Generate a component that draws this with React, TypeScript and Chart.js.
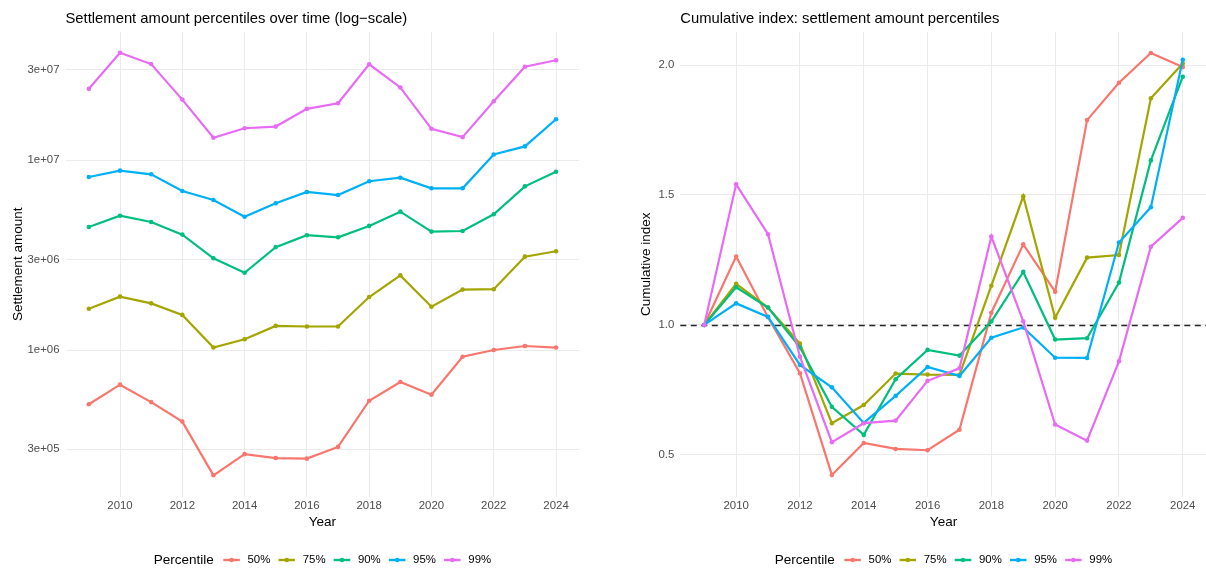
import React, { useEffect, useRef } from "react";
import { Chart, registerables } from "chart.js";

Chart.register(...registerables);

// ---------------- data ----------------
const YEARS = [2009, 2010, 2011, 2012, 2013, 2014, 2015, 2016, 2017, 2018, 2019, 2020, 2021, 2022, 2023, 2024];
const PERCENTILES = ["50%", "75%", "90%", "95%", "99%"];

// Settlement amounts (log-scale panel)
const AMT_P50 = [5.18e5, 6.57e5, 5.32e5, 4.2e5, 2.19e5, 2.83e5, 2.7e5, 2.68e5, 3.09e5, 5.41e5, 6.79e5, 5.82e5, 9.22e5, 1.0e6, 1.05e6, 1.03e6];
const AMT_P75 = [1.65e6, 1.91e6, 1.76e6, 1.53e6, 1.03e6, 1.14e6, 1.34e6, 1.33e6, 1.33e6, 1.9e6, 2.47e6, 1.69e6, 2.08e6, 2.09e6, 3.1e6, 3.31e6];
const AMT_P90 = [4.44e6, 5.09e6, 4.72e6, 4.05e6, 3.04e6, 2.55e6, 3.48e6, 4.02e6, 3.92e6, 4.5e6, 5.35e6, 4.2e6, 4.23e6, 5.18e6, 7.27e6, 8.68e6];
const AMT_P95 = [8.14e6, 8.79e6, 8.41e6, 6.87e6, 6.16e6, 5.03e6, 5.92e6, 6.79e6, 6.54e6, 7.73e6, 8.07e6, 7.1e6, 7.1e6, 1.07e7, 1.18e7, 1.64e7];
const AMT_P99 = [2.37e7, 3.67e7, 3.2e7, 2.08e7, 1.31e7, 1.47e7, 1.5e7, 1.86e7, 1.99e7, 3.19e7, 2.41e7, 1.46e7, 1.32e7, 2.04e7, 3.1e7, 3.35e7];

// Cumulative index (relative to 2009)
const IDX_P50 = [1.0, 1.263, 1.03, 0.814, 0.423, 0.546, 0.523, 0.518, 0.597, 1.047, 1.31, 1.128, 1.788, 1.932, 2.046, 1.992];
const IDX_P75 = [1.0, 1.158, 1.067, 0.928, 0.622, 0.692, 0.813, 0.809, 0.808, 1.151, 1.495, 1.028, 1.259, 1.269, 1.872, 2.006];
const IDX_P90 = [1.0, 1.145, 1.067, 0.914, 0.685, 0.577, 0.791, 0.904, 0.882, 1.013, 1.204, 0.944, 0.949, 1.163, 1.633, 1.955];
const IDX_P95 = [1.0, 1.083, 1.031, 0.846, 0.76, 0.623, 0.727, 0.838, 0.804, 0.951, 0.99, 0.874, 0.873, 1.317, 1.453, 2.02];
const IDX_P99 = [1.0, 1.541, 1.349, 0.878, 0.549, 0.622, 0.632, 0.785, 0.833, 1.34, 1.014, 0.617, 0.555, 0.86, 1.301, 1.412];

// ticks
const X_TICKS = [2010, 2012, 2014, 2016, 2018, 2020, 2022, 2024];
const LOG_TICKS = [3e5, 1e6, 3e6, 1e7, 3e7];
const LOG_TICK_LABELS = ["3e+05", "1e+06", "3e+06", "1e+07", "3e+07"];
const IDX_TICKS = [0.5, 1.0, 1.5, 2.0];
const IDX_TICK_LABELS = ["0.5", "1.0", "1.5", "2.0"];
const REF_VALUE = 1.0;

// ---------------- style ----------------
const COLORS = ["#F8766D", "#A3A500", "#00BF7D", "#00B0F6", "#E76BF3"];
const FONT = "'Liberation Sans', Arial, Helvetica, sans-serif";
const GRID = "#EBEBEB";
const TICK_COLOR = "#4D4D4D";
const H = 571;
const TICK_SIZE = 11.4;
const AXIS_TITLE_SIZE = 13.5;
const PLOT_TITLE_SIZE = 14.8;

Chart.defaults.font.family = FONT;

function buildDatasets(series: number[][]) {
  return series.map((vals, i) => ({
    label: PERCENTILES[i],
    data: YEARS.map((yr, j) => ({ x: yr, y: vals[j] })),
    borderColor: COLORS[i],
    backgroundColor: COLORS[i],
    borderWidth: 2.2,
    pointRadius: 2.3,
    pointBorderWidth: 0,
    pointHoverRadius: 2.3,
    tension: 0,
    order: series.length - i,
  }));
}

function decoPlugin(title: string, refLine: boolean) {
  return {
    id: "deco",
    beforeDatasetsDraw(chart: any) {
      if (!refLine) return;
      const { ctx, chartArea } = chart;
      const y = Math.round(chart.scales.y.getPixelForValue(REF_VALUE)) + 0.5;
      ctx.save();
      ctx.strokeStyle = "#262626";
      ctx.lineWidth = 1.3;
      ctx.setLineDash([6, 4.5]);
      ctx.beginPath();
      ctx.moveTo(chartArea.left, y);
      ctx.lineTo(chartArea.right, y);
      ctx.stroke();
      ctx.restore();
    },
    afterDraw(chart: any) {
      const { ctx, chartArea } = chart;
      ctx.save();
      // plot title
      ctx.fillStyle = "#000";
      ctx.font = `${PLOT_TITLE_SIZE}px ${FONT}`;
      ctx.textAlign = "left";
      ctx.textBaseline = "alphabetic";
      ctx.fillText(title, chartArea.left, 22.5);

      // legend
      const cx = (chartArea.left + chartArea.right) / 2;
      const ly = 560;
      ctx.font = `${AXIS_TITLE_SIZE}px ${FONT}`;
      const titleW = ctx.measureText("Percentile").width;
      ctx.font = `${TICK_SIZE}px ${FONT}`;
      const labW = PERCENTILES.map((p) => ctx.measureText(p).width);
      const sw = 16.5, g1 = 9.5, g2 = 7.7, g3 = 8.2;
      let total = titleW + g1;
      labW.forEach((w, i) => {
        total += sw + g2 + w + (i < labW.length - 1 ? g3 : 0);
      });
      let x = cx - total / 2;
      ctx.textBaseline = "middle";
      ctx.font = `${AXIS_TITLE_SIZE}px ${FONT}`;
      ctx.fillStyle = "#000";
      ctx.fillText("Percentile", x, ly);
      x += titleW + g1;
      ctx.font = `${TICK_SIZE}px ${FONT}`;
      PERCENTILES.forEach((p, i) => {
        ctx.strokeStyle = COLORS[i];
        ctx.lineWidth = 2.4;
        ctx.beginPath();
        ctx.moveTo(x, ly);
        ctx.lineTo(x + sw, ly);
        ctx.stroke();
        ctx.fillStyle = COLORS[i];
        ctx.beginPath();
        ctx.arc(x + sw / 2, ly, 2.2, 0, Math.PI * 2);
        ctx.fill();
        x += sw + g2;
        ctx.fillStyle = "#000";
        ctx.fillText(p, x, ly);
        x += labW[i] + g3;
      });
      ctx.restore();
    },
  };
}

function makeConfig(o: {
  series: number[][];
  title: string;
  yTitle: string;
  yType: "logarithmic" | "linear";
  yMin: number;
  yMax: number;
  yTicks: number[];
  yLabels: string[];
  yWidth: number;
  yTitlePad: number;
  padRight: number;
  refLine: boolean;
}): any {
  return {
    type: "line",
    data: { datasets: buildDatasets(o.series) },
    options: {
      animation: false,
      responsive: false,
      maintainAspectRatio: false,
      events: [],
      layout: { padding: { left: 0, right: o.padRight, top: 32, bottom: 34.5 } },
      plugins: { legend: { display: false }, tooltip: { enabled: false }, title: { display: false } },
      scales: {
        x: {
          type: "linear",
          min: 2008.25,
          max: 2024.75,
          afterBuildTicks: (s: any) => {
            s.ticks = X_TICKS.map((v) => ({ value: v }));
          },
          afterFit: (s: any) => {
            s.height = 40;
          },
          grid: { color: GRID, lineWidth: 1, drawTicks: false },
          border: { display: false },
          ticks: {
            padding: 3,
            color: TICK_COLOR,
            font: { size: TICK_SIZE },
            maxRotation: 0,
            autoSkip: false,
            callback: (v: any) => String(v),
          },
          title: {
            display: true,
            text: "Year",
            color: "#000",
            font: { size: AXIS_TITLE_SIZE },
            padding: { top: 0, bottom: 6.4 },
          },
        },
        y: {
          type: o.yType,
          min: o.yMin,
          max: o.yMax,
          afterBuildTicks: (s: any) => {
            s.ticks = o.yTicks.map((v) => ({ value: v }));
          },
          afterFit: (s: any) => {
            s.width = o.yWidth;
          },
          grid: { color: GRID, lineWidth: 1, drawTicks: false },
          border: { display: false },
          ticks: {
            padding: 6,
            color: TICK_COLOR,
            font: { size: TICK_SIZE },
            autoSkip: false,
            callback: (v: any) => {
              const k = o.yTicks.findIndex((t) => Math.abs(t - v) < 1e-9 * Math.max(1, Math.abs(t)));
              return k >= 0 ? o.yLabels[k] : "";
            },
          },
          title: {
            display: true,
            text: o.yTitle,
            color: "#000",
            font: { size: AXIS_TITLE_SIZE },
            padding: { top: o.yTitlePad, bottom: 0 },
          },
        },
      },
    },
    plugins: [decoPlugin(o.title, o.refLine)],
  };
}

function Panel({ left, width, cfg }: { left: number; width: number; cfg: () => any }) {
  const ref = useRef<HTMLCanvasElement>(null);
  useEffect(() => {
    const chart = new Chart(ref.current as HTMLCanvasElement, cfg());
    return () => chart.destroy();
  }, []);
  return (
    <div style={{ position: "absolute", left, top: 0, width, height: H }}>
      <canvas ref={ref} width={width} height={H} style={{ width, height: H, display: "block" }} />
    </div>
  );
}

export default function App() {
  const leftCfg = () =>
    makeConfig({
      series: [AMT_P50, AMT_P75, AMT_P90, AMT_P95, AMT_P99],
      title: "Settlement amount percentiles over time (log\u2212scale)",
      yTitle: "Settlement amount",
      yType: "logarithmic",
      yMin: 1.694e5,
      yMax: 4.72e7,
      yTicks: LOG_TICKS,
      yLabels: LOG_TICK_LABELS,
      yWidth: 65.5,
      yTitlePad: 10.6,
      padRight: 23.6,
      refLine: false,
    });
  const rightCfg = () =>
    makeConfig({
      series: [IDX_P50, IDX_P75, IDX_P90, IDX_P95, IDX_P99],
      title: "Cumulative index: settlement amount percentiles",
      yTitle: "Cumulative index",
      yType: "linear",
      yMin: 0.34,
      yMax: 2.127,
      yTicks: IDX_TICKS,
      yLabels: IDX_TICK_LABELS,
      yWidth: 77.3,
      yTitlePad: 35.6,
      padRight: 0.7,
      refLine: true,
    });
  return (
    <div
      style={{
        position: "fixed",
        left: 0,
        top: 0,
        width: 1206,
        height: H,
        overflow: "hidden",
        background: "#fff",
      }}
    >
      <Panel left={0} width={603} cfg={leftCfg} />
      <Panel left={603} width={606} cfg={rightCfg} />
    </div>
  );
}
